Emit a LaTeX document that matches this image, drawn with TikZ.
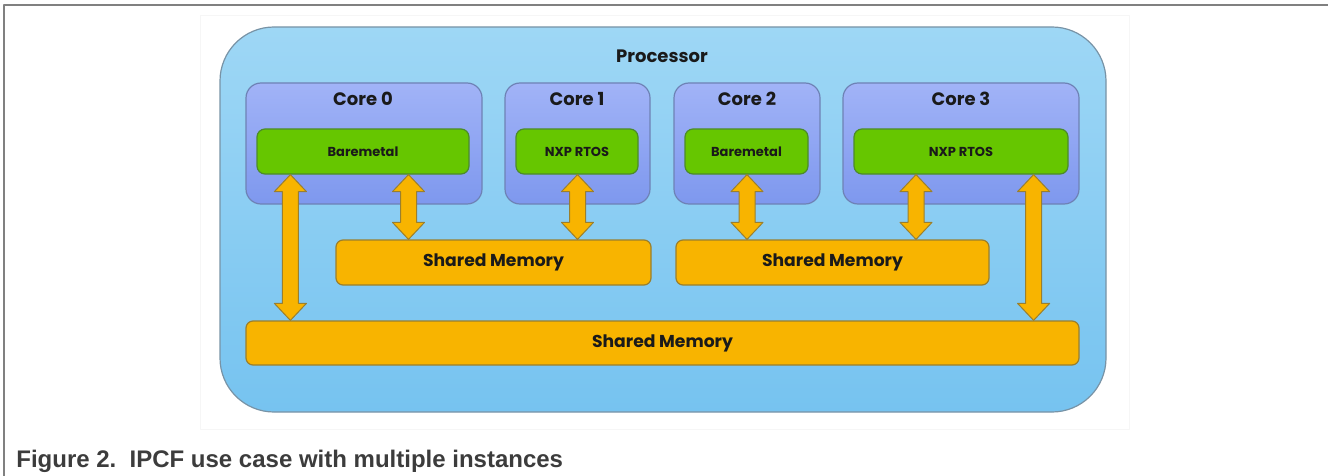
\documentclass[tikz,border=0pt]{standalone}
\usepackage{fontspec}
\setmainfont{Liberation Sans}
\newfontfamily\popfont{Poppins}
\usetikzlibrary{calc}

\definecolor{proctop}{HTML}{9ED7F5}
\definecolor{procbot}{HTML}{76C3F0}
\definecolor{procline}{HTML}{7893A6}
\definecolor{coretop}{HTML}{A1B3F7}
\definecolor{corebot}{HTML}{7E98EE}
\definecolor{coreline}{HTML}{6E82B5}
\definecolor{osgreen}{HTML}{66C600}
\definecolor{osline}{HTML}{4C8B2B}
\definecolor{memorange}{HTML}{F8B400}
\definecolor{memline}{HTML}{9A7F2E}
\definecolor{textdark}{HTML}{1A1A1A}
\definecolor{captiongray}{HTML}{3C3C3C}
\definecolor{framegray}{HTML}{808080}

% double arrow between two points on one vertical line
\newcommand{\ipcarrow}[2]{%
\filldraw[memarrow] let \p1=(#1), \p2=(#2) in
 (\x1,\y1) -- (\x1+8pt,\y1-8.5pt) -- (\x1+4pt,\y1-8.5pt) -- (\x1+4pt,\y2+8.5pt)
 -- (\x1+8pt,\y2+8.5pt) -- (\x1,\y2) -- (\x1-8pt,\y2+8.5pt) -- (\x1-4pt,\y2+8.5pt)
 -- (\x1-4pt,\y1-8.5pt) -- (\x1-8pt,\y1-8.5pt) -- cycle;}

\begin{document}
\begin{tikzpicture}[line join=round,x=0.5pt,y=-0.5pt,
  proc/.style={draw=procline,top color=proctop,bottom color=procbot,rounded corners=27pt,line width=0.6pt},
  core/.style={draw=coreline,top color=coretop,bottom color=corebot,rounded corners=7.5pt,minimum height=60.5pt,line width=0.6pt},
  lbl/.style={font=\popfont\bfseries\fontsize{9}{11}\selectfont,text=textdark,inner sep=0pt},
  os/.style={draw=osline,fill=osgreen,rounded corners=4pt,minimum height=22.5pt,font=\popfont\bfseries\fontsize{6.5}{8}\selectfont,text=textdark,line width=0.6pt},
  mem/.style={draw=memline,fill=memorange,rounded corners=3.5pt,font=\popfont\bfseries\fontsize{8.6}{10}\selectfont,text=textdark,line width=0.6pt},
  memarrow/.style={draw=memline,fill=memorange,line width=0.5pt}]
\useasboundingbox (0,0) rectangle (1328,476);
% frame of the figure
\draw[framegray,line width=0.8pt] (4,476)--(4,5)--(1328,5);
\draw[gray!7] (200,15) rectangle (1129,429);

\node[proc,minimum width=443pt,minimum height=192.5pt] (proc) at (663,219.5) {};
\node[lbl] (proclbl) at (662,56) {Processor};

% cores
\node[core,minimum width=118pt] (c0) at (364,143.5) {};
\node[core,minimum width=72.5pt] (c1) at (577.5,143.5) {};
\node[core,minimum width=73pt] (c2) at (747,143.5) {};
\node[core,minimum width=118pt] (c3) at (961,143.5) {};
\node[lbl] (c0lbl) at (363,99) {Core 0};
\node[lbl] (c1lbl) at (577,99) {Core 1};
\node[lbl] (c2lbl) at (747,99) {Core 2};
\node[lbl] (c3lbl) at (961,99) {Core 3};

\node[os,minimum width=106pt] (g0) at (363,151.5) {Baremetal};
\node[os,minimum width=61pt] (g1) at (577,151.5) {NXP RTOS};
\node[os,minimum width=61.5pt] (g2) at (746.5,151.5) {Baremetal};
\node[os,minimum width=107pt] (g3) at (961,151.5) {NXP RTOS};

% shared memories
\node[mem,minimum width=157.5pt,minimum height=22.5pt] (sm1) at (493.5,262.5) {Shared Memory};
\node[mem,minimum width=156.5pt,minimum height=22.5pt] (sm2) at (832.5,262.5) {Shared Memory};
\node[mem,minimum width=416.5pt,minimum height=22pt] (big) at (662.5,343) {Shared Memory};

\coordinate (a0) at ($(big.north west)+(45,0)$);
\coordinate (a1) at ($(sm1.north)+(-85,0)$);
\coordinate (a2) at ($(sm1.north)+(84,0)$);
\coordinate (a3) at ($(sm2.north)+(-85.5,0)$);
\coordinate (a4) at ($(sm2.north)+(83.5,0)$);
\coordinate (a5) at ($(big.north east)+(-46,0)$);
\ipcarrow{a0 |- g0.south}{a0}
\ipcarrow{a1 |- g0.south}{a1}
\ipcarrow{a2 |- g1.south}{a2}
\ipcarrow{a3 |- g2.south}{a3}
\ipcarrow{a4 |- g3.south}{a4}
\ipcarrow{a5 |- g3.south}{a5}

\node[anchor=base west,inner sep=0pt,font=\bfseries\fontsize{12}{14}\selectfont,text=captiongray] (cap) at (16,467) {Figure 2.\hspace{0.55em}IPCF use case with multiple instances};
\end{tikzpicture}
\end{document}
